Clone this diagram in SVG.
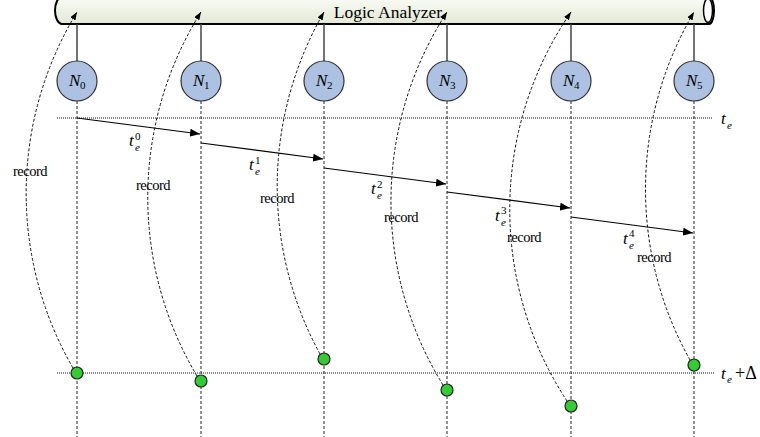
<svg xmlns="http://www.w3.org/2000/svg" width="760" height="437" viewBox="0 0 760 437">
<defs>
<linearGradient id="tubeGrad" x1="0" y1="0" x2="0" y2="1">
<stop offset="0" stop-color="#fafcf5"/>
<stop offset="1" stop-color="#e3e8d6"/>
</linearGradient>
<marker id="ah" viewBox="0 0 10 8" refX="10" refY="4" markerWidth="10" markerHeight="8" markerUnits="userSpaceOnUse" orient="auto">
<path d="M0,0 L10,4 L0,8 Z" fill="#000"/>
</marker>
<marker id="ahs" viewBox="0 0 8 6" refX="8" refY="3" markerWidth="8" markerHeight="6" markerUnits="userSpaceOnUse" orient="auto">
<path d="M0,0 L8,3 L0,6 Z" fill="#000"/>
</marker>
</defs>
<style>
.tube{fill:url(#tubeGrad);stroke:#000;stroke-width:2}
.cap{fill:#fff;stroke:#000;stroke-width:1.5}
.stem{stroke:#444;stroke-width:1.5}
.node{fill:#adc2e2;stroke:#333;stroke-width:1.2}
.vdash{stroke:#222;stroke-width:1;stroke-dasharray:3,2;fill:none}
.hdot{stroke:#111;stroke-width:1;stroke-dasharray:1,1;fill:none}
.hdot2{stroke:#888;stroke-width:1.8;stroke-dasharray:1,1;fill:none}
.arr{stroke:#000;stroke-width:1.2;fill:none;marker-end:url(#ah)}
.rec{stroke:#111;stroke-width:1;stroke-dasharray:3,2;fill:none;marker-end:url(#ahs)}
.dot{fill:#33cc33;stroke:#222;stroke-width:1.2}
.serif{font-family:"Liberation Serif","Times New Roman",serif;fill:#000}
.it{font-style:italic}
.lbl{font-size:14.5px;letter-spacing:-0.5px;text-anchor:middle}
.big{font-size:17px}
.sub{font-size:11px}
</style>

<g id="logic-analyzer">
<path class="tube" d="M62,-3 H709 A5 13.5 0 0 1 709,24 H62 A7 13.5 0 0 1 62,-3 Z"/>
<ellipse class="cap" cx="708" cy="10.5" rx="4.5" ry="12"/>
<text class="serif" x="388" y="18" font-size="17.5" text-anchor="middle">Logic Analyzer</text>
</g>

<g id="guides">
<line class="hdot" x1="57" y1="118" x2="713" y2="118"/>
<line class="hdot2" x1="57" y1="373" x2="714" y2="373"/>
<text class="serif it big" x="721" y="124">t</text>
<text class="serif it sub" x="727" y="129">e</text>
<text class="serif it big" x="721" y="379">t</text>
<text class="serif it sub" x="727" y="383">e</text>
<text class="serif" x="735" y="379" font-size="18">+Δ</text>
</g>

<g id="N0">
<line class="stem" x1="77" y1="24" x2="77" y2="61"/>
<line class="vdash" x1="77" y1="101" x2="77" y2="437"/>
<circle class="node" cx="77" cy="81" r="20"/>
<text class="serif it big" x="69" y="86">N</text><text class="serif sub" x="80" y="89">0</text>
<circle class="dot" cx="77" cy="373" r="6"/>
</g>
<g id="N1">
<line class="stem" x1="201" y1="24" x2="201" y2="61"/>
<line class="vdash" x1="201" y1="101" x2="201" y2="437"/>
<circle class="node" cx="201" cy="81" r="20"/>
<text class="serif it big" x="193" y="86">N</text><text class="serif sub" x="204" y="89">1</text>
<circle class="dot" cx="201" cy="381" r="6"/>
</g>
<g id="N2">
<line class="stem" x1="324" y1="24" x2="324" y2="61"/>
<line class="vdash" x1="324" y1="101" x2="324" y2="437"/>
<circle class="node" cx="324" cy="81" r="20"/>
<text class="serif it big" x="316" y="86">N</text><text class="serif sub" x="327" y="89">2</text>
<circle class="dot" cx="324" cy="359" r="6"/>
</g>
<g id="N3">
<line class="stem" x1="447" y1="24" x2="447" y2="61"/>
<line class="vdash" x1="447" y1="101" x2="447" y2="437"/>
<circle class="node" cx="447" cy="81" r="20"/>
<text class="serif it big" x="439" y="86">N</text><text class="serif sub" x="450" y="89">3</text>
<circle class="dot" cx="447" cy="390" r="6"/>
</g>
<g id="N4">
<line class="stem" x1="571" y1="24" x2="571" y2="61"/>
<line class="vdash" x1="571" y1="101" x2="571" y2="437"/>
<circle class="node" cx="571" cy="81" r="20"/>
<text class="serif it big" x="563" y="86">N</text><text class="serif sub" x="574" y="89">4</text>
<circle class="dot" cx="571" cy="406" r="6"/>
</g>
<g id="N5">
<line class="stem" x1="694" y1="24" x2="694" y2="61"/>
<line class="vdash" x1="694" y1="101" x2="694" y2="437"/>
<circle class="node" cx="694" cy="81" r="20"/>
<text class="serif it big" x="686" y="86">N</text><text class="serif sub" x="697" y="89">5</text>
<circle class="dot" cx="694" cy="365" r="6"/>
</g>

<g id="connectors">
<line class="arr" x1="77" y1="118" x2="200" y2="134"/>
<line class="arr" x1="201" y1="143" x2="323" y2="159"/>
<line class="arr" x1="324" y1="168" x2="446" y2="184"/>
<line class="arr" x1="447" y1="192" x2="570" y2="208"/>
<line class="arr" x1="571" y1="217" x2="693" y2="233"/>

<path class="rec" d="M73,368 A349 349 0 0 1 77,12"/>
<path class="rec" d="M197,376 A349 349 0 0 1 201,12"/>
<path class="rec" d="M320,354 A349 349 0 0 1 324,12"/>
<path class="rec" d="M443,385 A349 349 0 0 1 447,12"/>
<path class="rec" d="M567,401 A349 349 0 0 1 571,12"/>
<path class="rec" d="M690,360 A349 349 0 0 1 694,12"/>

<text class="serif it big" x="129" y="146">t</text><text class="serif it sub" x="135" y="151">e</text><text class="serif sub" x="135" y="140">0</text>
<text class="serif it big" x="249" y="170">t</text><text class="serif it sub" x="255" y="175">e</text><text class="serif sub" x="255" y="164">1</text>
<text class="serif it big" x="371" y="194">t</text><text class="serif it sub" x="377" y="199">e</text><text class="serif sub" x="377" y="188">2</text>
<text class="serif it big" x="495" y="221">t</text><text class="serif it sub" x="501" y="226">e</text><text class="serif sub" x="501" y="214">3</text>
<text class="serif it big" x="623" y="244">t</text><text class="serif it sub" x="629" y="249">e</text><text class="serif sub" x="629" y="237">4</text>

<text class="serif lbl" x="30" y="176">record</text>
<text class="serif lbl" x="153" y="190">record</text>
<text class="serif lbl" x="277" y="203">record</text>
<text class="serif lbl" x="401" y="222">record</text>
<text class="serif lbl" x="524" y="242">record</text>
<text class="serif lbl" x="654" y="262">record</text>
</g>
</svg>
